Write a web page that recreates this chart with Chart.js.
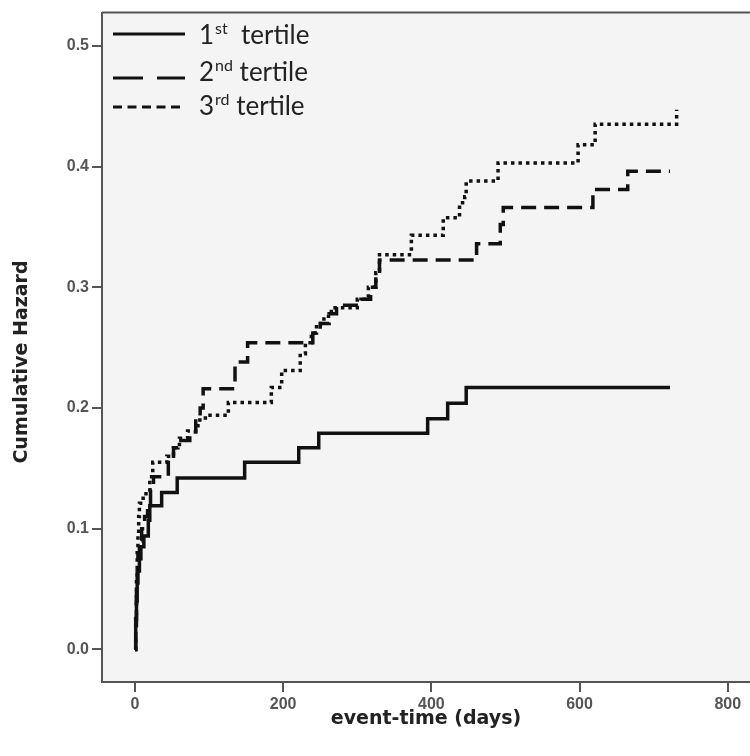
<!DOCTYPE html>
<html>
<head>
<meta charset="utf-8">
<script src="https://cdn.jsdelivr.net/npm/chart.js@4.4.0/dist/chart.umd.min.js"></script>
<style>
  html, body { margin: 0; padding: 0; background: #fff; overflow: hidden; }
  #wrap { width: 750px; height: 756px; position: relative; }
</style>
</head>
<body>
<div id="wrap"><canvas id="hazard_cv"></canvas></div>
<script>
// data (days, cumulative hazard)
var tert1Days = [0, 1, 2, 3, 4, 6, 8, 12, 18, 20, 36, 57, 148, 221, 248, 395, 422, 447, 722];
var tert1Haz  = [0, 0.02, 0.04, 0.055, 0.065, 0.075, 0.085, 0.094, 0.107, 0.119, 0.130, 0.142, 0.155, 0.167, 0.179, 0.191, 0.204, 0.217, 0.217];

var tert2Days = [0, 1, 2, 3, 4, 6, 9, 13, 17, 21, 25, 45, 52, 58, 74, 82, 88, 92, 135, 152, 240, 250, 262, 272, 305, 318, 325, 330, 461, 493, 497, 618, 665, 722];
var tert2Haz  = [0, 0.025, 0.05, 0.065, 0.08, 0.09, 0.1, 0.11, 0.12, 0.132, 0.143, 0.158, 0.167, 0.173, 0.18, 0.191, 0.2, 0.216, 0.238, 0.254, 0.262, 0.27, 0.278, 0.285, 0.29, 0.3, 0.31, 0.3225, 0.336, 0.352, 0.366, 0.381, 0.396, 0.396];

var tert3Days = [0, 1, 2, 3, 4, 5, 6, 11, 20, 24, 43, 52, 60, 71, 85, 95, 126, 184, 198, 223, 230, 238, 245, 255, 265, 300, 315, 325, 330, 373, 416, 438, 445, 447, 490, 598, 621, 730, 731];
var tert3Haz  = [0, 0.03, 0.06, 0.08, 0.095, 0.11, 0.121, 0.129, 0.143, 0.155, 0.16, 0.167, 0.175, 0.181, 0.19, 0.194, 0.2046, 0.217, 0.231, 0.245, 0.254, 0.262, 0.27, 0.276, 0.283, 0.29, 0.3, 0.312, 0.327, 0.343, 0.3575, 0.37, 0.375, 0.388, 0.403, 0.418, 0.435, 0.435, 0.447];

var xTicks = [0, 200, 400, 600, 800];
var yTicks = [0, 0.1, 0.2, 0.3, 0.4, 0.5];
var seriesLabels = [['1', 'st', '  tertile'], ['2', 'nd', ' tertile'], ['3', 'rd', ' tertile']];
var yTitle = 'Cumulative Hazard';

function toPoints(days, haz) {
  return days.map(function (d, i) { return {x: d, y: haz[i]}; });
}

var lineDashes = [[], [15, 8], [3.5, 4]];
var legendDashes = [[], [30, 14], [9, 5.5]];

// grey plot area + top frame line
var frameBgPlugin = {
  id: 'frameBg',
  beforeDraw: function (chart) {
    var ctx = chart.ctx, a = chart.chartArea;
    ctx.save();
    ctx.fillStyle = '#f4f4f4';
    ctx.fillRect(a.left, a.top, a.right - a.left, a.bottom - a.top);
    ctx.strokeStyle = '#555';
    ctx.lineWidth = 2;
    ctx.beginPath();
    ctx.moveTo(a.left, a.top);
    ctx.lineTo(a.right, a.top);
    ctx.stroke();
    ctx.restore();
  },
  afterDraw: function (chart) {
    // y title sits a little below the middle of the axis in the original
    var ctx = chart.ctx;
    ctx.save();
    ctx.translate(22, 362);
    ctx.rotate(-Math.PI / 2);
    ctx.fillStyle = '#222';
    ctx.font = 'bold 19px "DejaVu Sans"';
    ctx.textAlign = 'center';
    ctx.textBaseline = 'middle';
    ctx.fillText(yTitle, 0, 0);
    ctx.restore();
  }
};

// legend with superscripts, drawn inside the plot
var supLegendPlugin = {
  id: 'supLegend',
  afterDatasetsDraw: function (chart) {
    var ctx = chart.ctx;
    var lineYs = [34, 78, 107];
    var textYs = [44, 81, 115];
    ctx.save();
    seriesLabels.forEach(function (lab, i) {
      ctx.strokeStyle = '#111';
      ctx.lineWidth = 3;
      ctx.setLineDash(legendDashes[i]);
      ctx.beginPath();
      ctx.moveTo(113, lineYs[i]);
      ctx.lineTo(185, lineYs[i]);
      ctx.stroke();
      ctx.setLineDash([]);
      ctx.fillStyle = '#222';
      ctx.textBaseline = 'alphabetic';
      ctx.textAlign = 'left';
      var x = 199;
      ctx.font = '26px Lato';
      ctx.fillText(lab[0], x, textYs[i]);
      x += ctx.measureText(lab[0]).width + 1;
      ctx.font = '16px Lato';
      ctx.fillText(lab[1], x, textYs[i] - 10);
      x += ctx.measureText(lab[1]).width;
      ctx.font = '26px Lato';
      ctx.fillText(lab[2], x, textYs[i]);
    });
    ctx.restore();
  }
};

var chart = new Chart('hazard_cv', {
  type: 'line',
  data: {
    datasets: [
      {label: '1st tertile', data: toPoints(tert1Days, tert1Haz), borderDash: lineDashes[0]},
      {label: '2nd tertile', data: toPoints(tert2Days, tert2Haz), borderDash: lineDashes[1]},
      {label: '3rd tertile', data: toPoints(tert3Days, tert3Haz), borderDash: lineDashes[2]}
    ].map(function (ds) {
      ds.stepped = true;
      ds.borderColor = '#111';
      ds.borderWidth = 3.5;
      ds.pointRadius = 0;
      ds.fill = false;
      ds.borderCapStyle = 'butt';
      return ds;
    })
  },
  options: {
    animation: false,
    responsive: true,
    maintainAspectRatio: false,
    layout: {padding: {top: 11, right: 0, bottom: 0, left: 0}},
    plugins: {
      legend: {display: false},
      tooltip: {enabled: false}
    },
    scales: {
      x: {
        type: 'linear',
        min: -44.5,
        max: 830,
        afterBuildTicks: function (s) { s.ticks = xTicks.map(function (v) { return {value: v}; }); },
        afterFit: function (s) { s.height = 74; },
        ticks: {
          includeBounds: false,
          color: '#555',
          font: {family: 'Liberation Sans', size: 16, weight: 'bold'},
          padding: 3,
          maxRotation: 0,
          callback: function (v) { return String(v); }
        },
        grid: {drawOnChartArea: false, tickLength: 10, tickColor: '#555', lineWidth: 2},
        border: {color: '#555', width: 2},
        title: {
          display: true,
          text: 'event-time (days)',
          color: '#222',
          font: {family: 'DejaVu Sans', size: 19, weight: 'bold'},
          padding: {top: 0, bottom: 26}
        }
      },
      y: {
        type: 'linear',
        min: -0.027,
        max: 0.5275,
        afterBuildTicks: function (s) { s.ticks = yTicks.map(function (v) { return {value: v}; }); },
        afterFit: function (s) { s.width = 102; },
        ticks: {
          includeBounds: false,
          color: '#555',
          font: {family: 'Liberation Sans', size: 16, weight: 'bold'},
          padding: 3,
          callback: function (v) { return v.toFixed(1); }
        },
        grid: {drawOnChartArea: false, tickLength: 10, tickColor: '#555', lineWidth: 2},
        border: {color: '#555', width: 2},
        title: {display: false}
      }
    }
  },
  plugins: [frameBgPlugin, supLegendPlugin]
});
</script>
</body>
</html>
